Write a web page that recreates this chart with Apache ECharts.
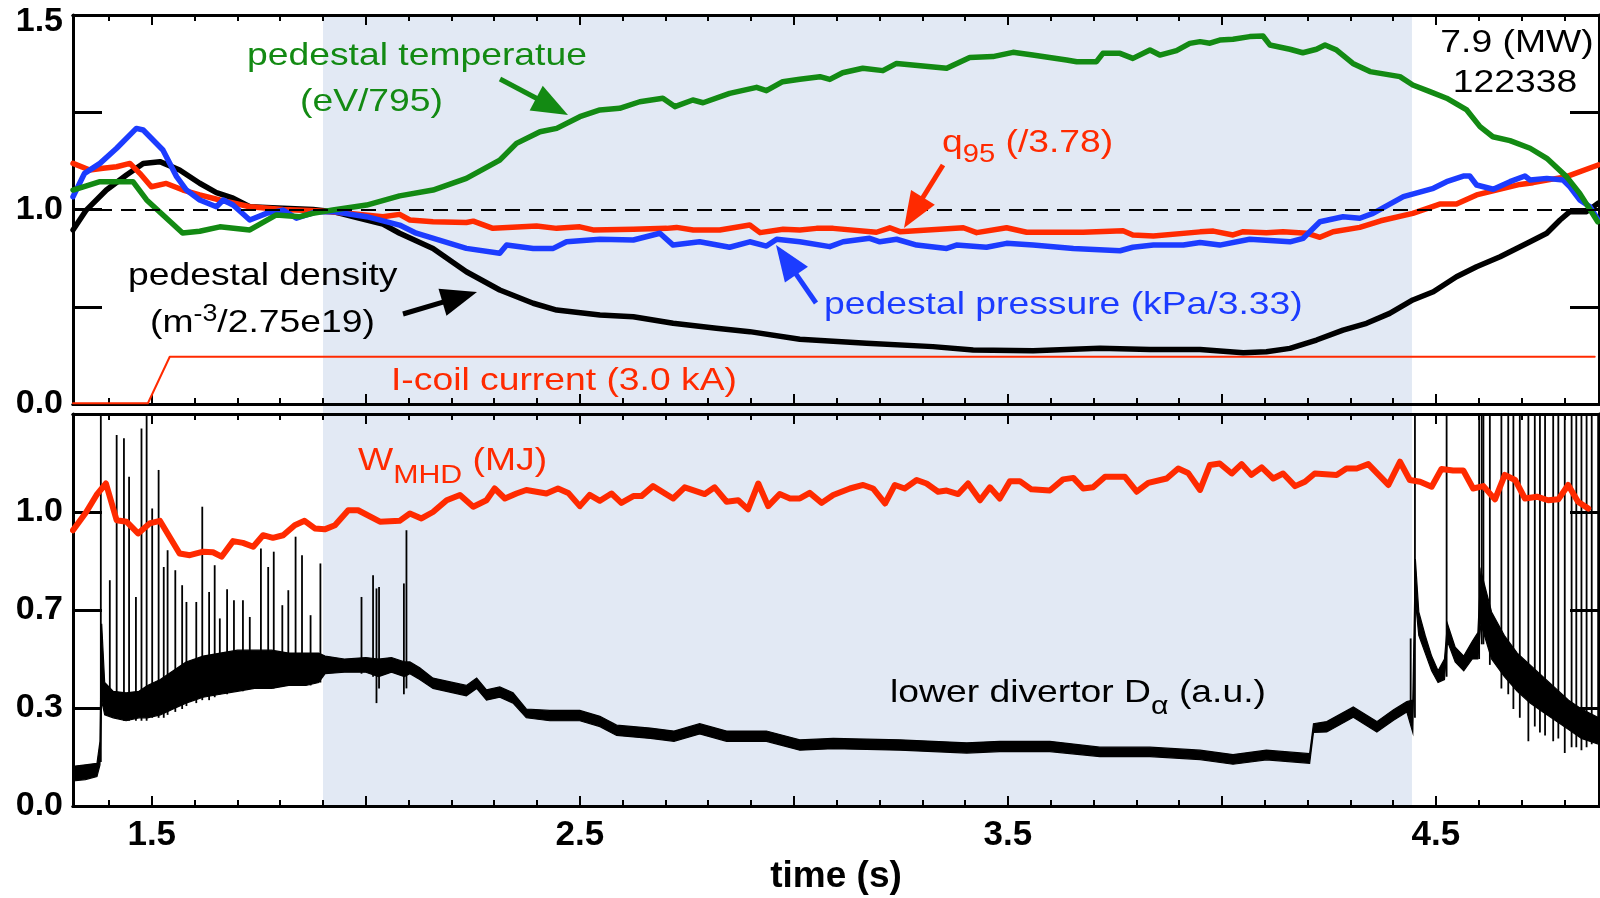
<!DOCTYPE html>
<html><head><meta charset="utf-8">
<script src="https://cdn.jsdelivr.net/npm/echarts@6/dist/echarts.min.js"></script>
<style>html,body{margin:0;padding:0;background:#fff}#c{width:1600px;height:898px}</style>
</head><body><div id="c"></div>
<script>
// ---------------- data ----------------
const timeRange = [1.316, 4.881];
const shadeWindow = [1.9, 4.444];
const xLabelTicks = [1.5, 2.5, 3.5, 4.5];
const xMajorTicks = []; for (let k = 3; k <= 9; k++) xMajorTicks.push(k / 2);
const xMinorTicks = []; for (let k = 14; k <= 48; k++) xMinorTicks.push(k / 10);
const topTickValues = [0, 0.5, 1, 1.5, 2];
const topLabelValues = [0, 1, 2];
const topLabelTexts = ['0.0', '1.0', '1.5'];
const bottomTickValues = [0, 1/3, 2/3, 1, 4/3];
const bottomLabelValues = [0, 1/3, 2/3, 1];
const bottomLabelTexts = ['0.0', '0.3', '0.7', '1.0'];

const pedTemperature = [[1.316,1.10],[1.379,1.143],[1.456,1.143],[1.488,1.049],[1.572,0.879],[1.612,0.888],[1.659,0.911],[1.729,0.895],[1.791,0.972],[1.846,0.963],[1.876,0.98],[1.923,0.997],[2.002,1.023],[2.079,1.07],[2.157,1.10],[2.235,1.16],[2.313,1.254],[2.352,1.34],[2.407,1.40],[2.446,1.417],[2.5,1.477],[2.547,1.512],[2.593,1.52],[2.640,1.554],[2.694,1.572],[2.722,1.529],[2.764,1.563],[2.788,1.549],[2.850,1.597],[2.913,1.628],[2.936,1.611],[2.974,1.657],[3.014,1.67],[3.061,1.683],[3.084,1.669],[3.114,1.703],[3.161,1.726],[3.208,1.714],[3.240,1.751],[3.357,1.726],[3.411,1.782],[3.465,1.786],[3.512,1.808],[3.558,1.794],[3.637,1.769],[3.661,1.760],[3.707,1.760],[3.722,1.803],[3.762,1.803],[3.792,1.777],[3.832,1.82],[3.855,1.794],[3.894,1.817],[3.925,1.854],[3.949,1.863],[3.972,1.855],[3.995,1.871],[4.026,1.875],[4.065,1.889],[4.096,1.892],[4.112,1.846],[4.159,1.824],[4.189,1.806],[4.221,1.824],[4.241,1.846],[4.268,1.82],[4.306,1.751],[4.346,1.709],[4.416,1.683],[4.446,1.640],[4.486,1.606],[4.525,1.572],[4.572,1.512],[4.603,1.426],[4.633,1.374],[4.673,1.354],[4.720,1.315],[4.759,1.263],[4.805,1.169],[4.836,1.083],[4.878,0.937]];

const pedPressure = [[1.316,1.066],[1.343,1.186],[1.379,1.237],[1.418,1.315],[1.464,1.417],[1.480,1.409],[1.526,1.306],[1.558,1.169],[1.581,1.10],[1.612,1.049],[1.651,1.014],[1.667,1.049],[1.690,1.023],[1.729,0.946],[1.768,0.98],[1.807,0.997],[1.838,0.955],[1.885,0.989],[1.924,0.989],[2.002,0.963],[2.079,0.920],[2.118,0.878],[2.235,0.80],[2.313,0.775],[2.329,0.817],[2.391,0.80],[2.438,0.80],[2.469,0.834],[2.547,0.847],[2.625,0.843],[2.687,0.878],[2.718,0.817],[2.780,0.834],[2.850,0.806],[2.897,0.834],[2.936,0.812],[2.960,0.847],[3.014,0.834],[3.084,0.809],[3.115,0.834],[3.177,0.852],[3.201,0.834],[3.240,0.847],[3.287,0.817],[3.357,0.80],[3.380,0.817],[3.450,0.806],[3.497,0.826],[3.559,0.817],[3.606,0.809],[3.653,0.80],[3.762,0.788],[3.792,0.806],[3.840,0.817],[3.910,0.817],[3.949,0.830],[3.995,0.817],[4.065,0.847],[4.159,0.834],[4.190,0.852],[4.229,0.937],[4.283,0.963],[4.322,0.955],[4.353,0.98],[4.424,1.066],[4.494,1.109],[4.525,1.143],[4.564,1.172],[4.579,1.172],[4.595,1.126],[4.634,1.104],[4.673,1.143],[4.708,1.172],[4.720,1.152],[4.759,1.160],[4.797,1.152],[4.813,1.117],[4.836,1.049],[4.860,1.014],[4.879,0.946]];

const q95 = [[1.316,1.237],[1.355,1.203],[1.386,1.212],[1.418,1.22],[1.449,1.237],[1.472,1.186],[1.499,1.117],[1.534,1.134],[1.573,1.10],[1.612,1.075],[1.659,1.049],[1.729,1.014],[1.807,1.0],[1.885,0.993],[1.963,0.98],[2.040,0.963],[2.079,0.975],[2.103,0.946],[2.157,0.937],[2.235,0.933],[2.251,0.94],[2.297,0.903],[2.399,0.915],[2.446,0.903],[2.5,0.911],[2.531,0.895],[2.625,0.898],[2.703,0.903],[2.726,0.908],[2.765,0.895],[2.827,0.895],[2.897,0.920],[2.921,0.881],[2.975,0.898],[3.014,0.895],[3.053,0.903],[3.092,0.903],[3.193,0.883],[3.224,0.906],[3.248,0.886],[3.396,0.906],[3.427,0.881],[3.497,0.906],[3.544,0.883],[3.676,0.883],[3.769,0.891],[3.792,0.869],[3.840,0.864],[3.949,0.885],[3.980,0.889],[4.026,0.869],[4.050,0.886],[4.104,0.881],[4.143,0.886],[4.198,0.878],[4.229,0.857],[4.260,0.886],[4.322,0.908],[4.371,0.942],[4.446,0.98],[4.509,1.028],[4.548,1.028],[4.595,1.075],[4.696,1.129],[4.727,1.138],[4.805,1.169],[4.879,1.229]];

const pedDensity = [[1.316,0.895],[1.347,0.997],[1.394,1.10],[1.441,1.177],[1.480,1.237],[1.519,1.246],[1.565,1.203],[1.612,1.135],[1.651,1.087],[1.690,1.058],[1.729,1.014],[1.807,1.007],[1.877,1.0],[1.924,0.989],[1.986,0.955],[2.040,0.925],[2.079,0.878],[2.157,0.80],[2.235,0.680],[2.313,0.586],[2.391,0.518],[2.446,0.483],[2.547,0.458],[2.625,0.449],[2.718,0.415],[2.819,0.389],[2.897,0.372],[3.014,0.333],[3.170,0.312],[3.325,0.295],[3.419,0.278],[3.559,0.274],[3.715,0.286],[3.832,0.28],[3.949,0.28],[4.050,0.264],[4.104,0.269],[4.159,0.286],[4.221,0.329],[4.283,0.380],[4.338,0.415],[4.392,0.466],[4.446,0.535],[4.494,0.577],[4.548,0.654],[4.595,0.706],[4.650,0.757],[4.720,0.834],[4.759,0.878],[4.790,0.946],[4.813,0.989],[4.852,0.989],[4.879,1.032]];

const iCoil = [[1.316,0.004],[1.491,0.004],[1.542,0.243],[4.871,0.243]];

const wMHD = [[1.316,0.938],[1.347,1.0],[1.371,1.058],[1.393,1.097],[1.418,0.972],[1.441,0.967],[1.468,0.927],[1.495,0.961],[1.519,0.970],[1.565,0.859],[1.589,0.853],[1.620,0.865],[1.643,0.863],[1.663,0.848],[1.690,0.901],[1.713,0.895],[1.737,0.882],[1.760,0.921],[1.783,0.912],[1.807,0.921],[1.834,0.955],[1.857,0.970],[1.881,0.944],[1.904,0.941],[1.928,0.955],[1.959,1.006],[1.982,1.006],[2.033,0.967],[2.079,0.970],[2.103,0.995],[2.130,0.978],[2.157,1.0],[2.189,1.040],[2.220,1.058],[2.251,1.018],[2.282,1.040],[2.301,1.080],[2.325,1.046],[2.352,1.063],[2.375,1.075],[2.422,1.063],[2.449,1.080],[2.473,1.065],[2.5,1.020],[2.523,1.058],[2.547,1.038],[2.574,1.063],[2.597,1.031],[2.625,1.054],[2.644,1.054],[2.671,1.088],[2.718,1.046],[2.745,1.084],[2.792,1.061],[2.815,1.084],[2.843,1.035],[2.870,1.040],[2.893,1.009],[2.917,1.097],[2.940,1.020],[2.967,1.061],[2.991,1.046],[3.014,1.046],[3.037,1.065],[3.065,1.031],[3.092,1.058],[3.131,1.080],[3.162,1.092],[3.185,1.080],[3.213,1.029],[3.236,1.092],[3.259,1.080],[3.287,1.109],[3.310,1.097],[3.337,1.069],[3.357,1.073],[3.384,1.061],[3.407,1.097],[3.435,1.040],[3.458,1.084],[3.481,1.046],[3.505,1.105],[3.528,1.105],[3.555,1.077],[3.598,1.073],[3.629,1.111],[3.653,1.116],[3.676,1.080],[3.699,1.084],[3.727,1.120],[3.773,1.120],[3.801,1.069],[3.828,1.099],[3.871,1.114],[3.898,1.148],[3.921,1.133],[3.949,1.075],[3.972,1.160],[3.995,1.165],[4.023,1.131],[4.046,1.163],[4.069,1.126],[4.093,1.152],[4.120,1.114],[4.143,1.131],[4.171,1.088],[4.194,1.103],[4.217,1.131],[4.268,1.126],[4.291,1.148],[4.315,1.148],[4.342,1.163],[4.389,1.092],[4.416,1.171],[4.439,1.109],[4.463,1.103],[4.490,1.086],[4.513,1.146],[4.540,1.141],[4.564,1.141],[4.587,1.080],[4.611,1.088],[4.638,1.043],[4.661,1.126],[4.685,1.109],[4.708,1.046],[4.736,1.052],[4.762,1.040],[4.786,1.043],[4.809,1.092],[4.832,1.035],[4.856,1.012]];

// lower divertor D-alpha: noisy band [time, low edge, high edge]
const dAlphaBand = [[1.316,0.085,0.135],[1.345,0.09,0.14],[1.372,0.10,0.145],[1.379,0.14,0.22],[1.383,0.36,0.62],[1.390,0.31,0.42],[1.41,0.30,0.39],[1.44,0.29,0.385],[1.47,0.30,0.39],[1.49,0.30,0.41],[1.52,0.31,0.43],[1.55,0.33,0.46],[1.58,0.35,0.49],[1.62,0.37,0.51],[1.66,0.38,0.52],[1.70,0.39,0.53],[1.74,0.40,0.53],[1.78,0.40,0.53],[1.82,0.41,0.52],[1.86,0.41,0.52],[1.89,0.42,0.52],[1.905,0.45,0.51],[1.95,0.455,0.50],[2.00,0.455,0.505],[2.03,0.44,0.50],[2.06,0.455,0.505],[2.09,0.44,0.49],[2.103,0.45,0.49],[2.126,0.43,0.47],[2.157,0.40,0.435],[2.235,0.375,0.41],[2.259,0.40,0.435],[2.282,0.36,0.395],[2.313,0.37,0.405],[2.344,0.35,0.385],[2.375,0.30,0.33],[2.430,0.29,0.325],[2.5,0.29,0.325],[2.547,0.27,0.305],[2.586,0.24,0.275],[2.665,0.23,0.265],[2.720,0.22,0.255],[2.780,0.245,0.28],[2.843,0.22,0.255],[2.936,0.22,0.255],[3.014,0.19,0.225],[3.092,0.195,0.23],[3.248,0.19,0.225],[3.404,0.18,0.215],[3.481,0.185,0.22],[3.598,0.185,0.22],[3.715,0.168,0.20],[3.832,0.168,0.20],[3.949,0.158,0.19],[4.026,0.142,0.175],[4.104,0.157,0.19],[4.205,0.145,0.178],[4.214,0.25,0.28],[4.245,0.252,0.287],[4.307,0.302,0.337],[4.362,0.252,0.287],[4.401,0.292,0.327],[4.432,0.32,0.355],[4.446,0.25,0.36],[4.452,0.70,0.84],[4.46,0.58,0.66],[4.475,0.52,0.58],[4.49,0.46,0.51],[4.505,0.42,0.46],[4.52,0.43,0.50],[4.527,0.56,0.62],[4.545,0.49,0.54],[4.565,0.46,0.51],[4.585,0.50,0.56],[4.598,0.50,0.59],[4.605,0.62,0.80],[4.63,0.50,0.66],[4.66,0.44,0.58],[4.69,0.39,0.52],[4.72,0.35,0.48],[4.75,0.32,0.44],[4.78,0.29,0.40],[4.81,0.26,0.36],[4.84,0.23,0.33],[4.881,0.21,0.30]];

// D-alpha spikes (ELMs): [time, base, peak]
const dAlphaSpikes = [[1.381,0.15,1.34],[1.402,0.33,0.768],[1.418,0.30,1.262],[1.435,0.29,1.251],[1.447,0.29,1.120],[1.463,0.29,0.711],[1.476,0.29,1.284],[1.488,0.29,1.34],[1.501,0.30,1.012],[1.516,0.30,1.143],[1.528,0.30,0.813],[1.537,0.31,0.870],[1.555,0.32,0.802],[1.571,0.33,0.751],[1.581,0.34,0.694],[1.604,0.35,0.694],[1.618,0.36,1.018],[1.634,0.36,0.728],[1.647,0.37,0.819],[1.659,0.38,0.638],[1.676,0.38,0.737],[1.692,0.39,0.700],[1.713,0.39,0.700],[1.729,0.40,0.643],[1.755,0.40,0.876],[1.772,0.40,0.813],[1.785,0.40,0.865],[1.805,0.41,0.683],[1.819,0.41,0.734],[1.836,0.41,0.916],[1.851,0.41,0.853],[1.871,0.41,0.649],[1.894,0.42,0.825],[1.990,0.45,0.711],[2.017,0.44,0.785],[2.025,0.35,0.740],[2.031,0.40,0.745],[2.089,0.38,0.757],[2.095,0.40,0.938],[4.441,0.30,0.57],[4.451,0.30,1.34],[4.525,0.44,1.34],[4.601,0.50,1.34],[4.607,0.55,1.34],[4.611,0.55,1.34],[4.626,0.48,1.34],[4.653,0.40,1.34],[4.669,0.38,1.34],[4.681,0.33,1.34],[4.696,0.30,1.34],[4.716,0.22,1.34],[4.731,0.27,1.34],[4.743,0.25,1.34],[4.755,0.24,1.34],[4.774,0.22,1.34],[4.786,0.23,1.34],[4.801,0.18,1.34],[4.817,0.20,1.34],[4.828,0.20,1.34],[4.840,0.19,1.34],[4.852,0.20,1.34],[4.864,0.21,1.34],[4.879,0.22,1.34]];

// ---------------- styling ----------------
const FONT = '"Liberation Sans", Arial, Helvetica, sans-serif';
const C = {green:'#138a13', blue:'#1c3cff', red:'#ff2a00', black:'#000000', shade:'#e2e9f4'};

function near(arr, v) { for (let i = 0; i < arr.length; i++) if (Math.abs(arr[i] - v) < 1e-6) return i; return -1; }

function xAxisDef(gridIndex, position, ticks, len, withLabels) {
  const ax = {
    type:'value', gridIndex, position, min:timeRange[0], max:timeRange[1],
    axisLine:{show:true, onZero:false, lineStyle:{color:'#000', width:3}},
    axisTick:{show:true, inside:true, length:len, customValues:ticks, lineStyle:{color:'#000', width:2}},
    axisLabel:{show:false}, splitLine:{show:false}
  };
  if (withLabels) {
    ax.axisLabel = {show:true, customValues:xLabelTicks, margin:12, color:'#000', fontSize:35, fontWeight:'bold', fontFamily:FONT,
      formatter:v => v.toFixed(1)};
    ax.name = 'time (s)'; ax.nameLocation = 'middle'; ax.nameGap = 52;
    ax.nameTextStyle = {color:'#000', fontSize:37, fontWeight:'bold', fontFamily:FONT};
  }
  return ax;
}
function yAxisDef(gridIndex, position, max, ticks, labelVals, labelTexts) {
  const ax = {
    type:'value', gridIndex, position, min:0, max,
    axisLine:{show:true, onZero:false, lineStyle:{color:'#000', width:3}},
    axisTick:{show:true, inside:true, length:29, customValues:ticks, lineStyle:{color:'#000', width:3}},
    axisLabel:{show:false}, splitLine:{show:false}
  };
  if (labelVals) {
    ax.axisLabel = {show:true, customValues:labelVals, margin:10, color:'#000', fontSize:34, fontWeight:'bold', fontFamily:FONT,
      formatter:v => { const i = near(labelVals, v); const t = i >= 0 ? labelTexts[i] : '';
        return (i === labelVals.length - 1 && max === 2) ? '{t|' + t + '}' : t; },
      rich:{t:{fontSize:34, fontWeight:'bold', fontFamily:FONT, color:'#000', padding:[13,0,0,0]}}};
  }
  return ax;
}

const grids = [
  {left:73, right:1, top:15, height:389},
  {left:73, right:1, top:414, height:392}
];

function lineSeries(data, color, width, xi, yi, extra) {
  return Object.assign({type:'line', data, xAxisIndex:xi, yAxisIndex:yi, showSymbol:false, symbol:'none',
    lineStyle:{color:color, width:width, join:'round', cap:'round'}, itemStyle:{color:color},
    emphasis:{disabled:true}, z:3, silent:true, animation:false}, extra || {});
}

const option = {
  animation:false,
  backgroundColor:'#ffffff',
  grid:grids,
  xAxis:[
    xAxisDef(0,'bottom',xMinorTicks,6,false), xAxisDef(0,'bottom',xMajorTicks,10,false),
    xAxisDef(0,'top',xMinorTicks,6,false), xAxisDef(0,'top',xMajorTicks,10,false),
    xAxisDef(1,'bottom',xMinorTicks,6,false), xAxisDef(1,'bottom',xMajorTicks,10,true),
    xAxisDef(1,'top',xMinorTicks,6,false), xAxisDef(1,'top',xMajorTicks,10,false)
  ],
  yAxis:[
    yAxisDef(0,'left',2,topTickValues,topLabelValues,topLabelTexts),
    yAxisDef(0,'right',2,topTickValues,null,null),
    yAxisDef(1,'left',4/3,bottomTickValues,bottomLabelValues,bottomLabelTexts),
    yAxisDef(1,'right',4/3,bottomTickValues,null,null)
  ],
  series:[
    lineSeries(iCoil, C.red, 2, 0, 0, {markLine:{silent:true, symbol:'none', label:{show:false},
      lineStyle:{color:'#000', width:2, type:[15,9]}, data:[{yAxis:1}]}}),
    lineSeries(pedDensity, C.black, 5.5, 0, 0),
    lineSeries(q95, C.red, 5.5, 0, 0),
    lineSeries(pedPressure, C.blue, 5.5, 0, 0),
    lineSeries(pedTemperature, C.green, 5.5, 0, 0),
    {type:'custom', xAxisIndex:4, yAxisIndex:2, data:dAlphaBand, clip:true, silent:true, z:3,
      renderItem:(params, api) => {
        if (params.dataIndex !== 0) return null;
        const up = dAlphaBand.map(p => api.coord([p[0], p[2]]));
        const lo = dAlphaBand.slice().reverse().map(p => api.coord([p[0], p[1]]));
        return {type:'polygon', shape:{points:up.concat(lo)}, style:{fill:'#000', stroke:'#000', lineWidth:1.2}};
      }},
    {type:'custom', xAxisIndex:4, yAxisIndex:2, data:dAlphaSpikes, clip:true, silent:true, z:3,
      renderItem:(params, api) => {
        const a = api.coord([api.value(0), api.value(1)]);
        const b = api.coord([api.value(0), api.value(2)]);
        return {type:'line', shape:{x1:a[0], y1:a[1], x2:b[0], y2:b[1]}, style:{stroke:'#000', lineWidth:1.8}};
      }},
    lineSeries(wMHD, C.red, 6, 4, 2, {z:4})
  ]
};

const chart = echarts.init(document.getElementById('c'), null, {renderer:'canvas', width:1600, height:898});
chart.setOption(option);

// ---------------- annotations ----------------
const SX = 1.165;
const FS = 32;
function txt(x, y, text, color, align, rich) {
  return {type:'text', x, y, scaleX:SX, scaleY:1, silent:true, z:10,
    style:{text, fill:color, font:FS + 'px ' + FONT, align:align || 'left', verticalAlign:'middle', rich:rich || undefined}};
}
function richSet(color, L, subSize, subVA) {
  return {
    n:{fontSize:FS, fontFamily:FONT, fill:color, color:color, lineHeight:L, verticalAlign:'middle'},
    s:{fontSize:subSize, fontFamily:FONT, fill:color, color:color, lineHeight:subSize, verticalAlign:subVA}
  };
}
function arrow(x1, y1, x2, y2, color) {
  const dx = x2 - x1, dy = y2 - y1, len = Math.hypot(dx, dy);
  const ux = dx / len, uy = dy / len, L = 36, W = 14;
  const bx = x2 - ux * L, by = y2 - uy * L;
  return [
    {type:'line', silent:true, z:10, shape:{x1, y1, x2:bx + ux * 4, y2:by + uy * 4}, style:{stroke:color, lineWidth:5}},
    {type:'polygon', silent:true, z:10, shape:{points:[[x2, y2], [bx - uy * W, by + ux * W], [bx + uy * W, by - ux * W]]}, style:{fill:color}}
  ];
}

const xs0 = chart.convertToPixel({xAxisIndex:0}, shadeWindow[0]);
const xs1 = chart.convertToPixel({xAxisIndex:0}, shadeWindow[1]);
const yTop = chart.convertToPixel({yAxisIndex:0}, 2);
const yBot = chart.convertToPixel({yAxisIndex:2}, 0);

const graphics = [
  {type:'rect', silent:true, z:-10, shape:{x:xs0, y:yTop, width:xs1 - xs0, height:yBot - yTop}, style:{fill:C.shade}},
  txt(247, 56, 'pedestal temperatue', C.green),
  txt(300, 102, '(eV/795)', C.green),
  txt(128, 276, 'pedestal density', C.black),
  txt(150, 323, '{n|(m}{s|-3}{n|/2.75e19)}', C.black, 'left', richSet(C.black, 40, 23, 'top')),
  txt(942, 143, '{n|q}{s|95}{n| (/3.78)}', C.red, 'left', richSet(C.red, 50, 25, 'bottom')),
  txt(824, 305, 'pedestal pressure (kPa/3.33)', C.blue),
  txt(391, 381, 'I-coil current (3.0 kA)', C.red),
  txt(1517, 43, '7.9 (MW)', C.black, 'center'),
  txt(1515, 83, '122338', C.black, 'center'),
  txt(358, 461, '{n|W}{s|MHD}{n| (MJ)}', C.red, 'left', richSet(C.red, 56, 26, 'bottom')),
  txt(890, 693, '{n|lower divertor D}{s|α}{n| (a.u.)}', C.black, 'left', richSet(C.black, 54, 26, 'bottom'))
].concat(
  arrow(500, 79, 568, 115, C.green),
  arrow(403, 314, 477, 292, C.black),
  arrow(943, 165, 904, 228, C.red),
  arrow(816, 303, 776, 245, C.blue)
);
chart.setOption({graphic:{elements:graphics}});
</script>
</body></html>
